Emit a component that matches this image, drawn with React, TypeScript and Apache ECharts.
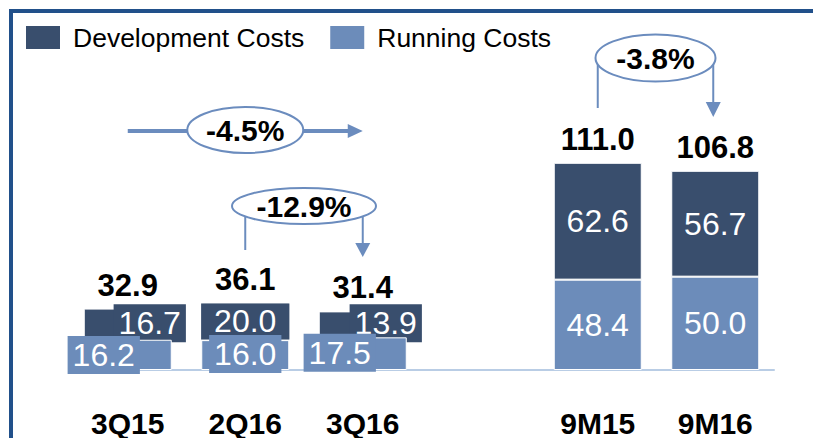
import React, { useEffect, useRef } from "react";
import * as echarts from "echarts";

const categories = ["3Q15", "2Q16", "3Q16", "", "9M15", "9M16"];
const developmentCosts: (number | null)[] = [16.7, 20.0, 13.9, null, 62.6, 56.7];
const runningCosts: (number | null)[] = [16.2, 16.0, 17.5, null, 48.4, 50.0];
const totals: (number | null)[] = [32.9, 36.1, 31.4, null, 111.0, 106.8];
const changeLabels = ["-4.5%", "-12.9%", "-3.8%"];

// label placement styles (not data)
const runLabelOffsets: ([number, number] | null)[] = [[-24, 0], [0, -1], [-23, -1], null, null, null];
const devLabelOffsets: ([number, number] | null)[] = [[22, -1], [0, 0], [23, -1], null, null, null];
const devLabelPadding: ([number, number] | null)[] = [[3, 5], [2, 13], [3, 5], null, null, null];

const DARK = "#394e6d";
const LIGHT = "#6c8cba";
const STROKE = "#6b8cbe";
const FRAME = "#21508a";
const FONT = '"Liberation Sans", Arial, sans-serif';

export default function App() {
  const ref = useRef<HTMLDivElement>(null);

  useEffect(() => {
    if (!ref.current) return;
    const chart = echarts.init(ref.current, undefined, { renderer: "svg" });

    const fmt = (v: number) => v.toFixed(1);

    const runData = runningCosts.map((v, i) => {
      if (v == null) return "-";
      const off = runLabelOffsets[i];
      return {
        value: v,
        label: off
          ? { offset: off, backgroundColor: LIGHT, padding: [3, 5], lineHeight: 32 }
          : {},
      };
    });

    const devData = developmentCosts.map((v, i) => {
      if (v == null) return "-";
      const off = devLabelOffsets[i];
      return {
        value: v,
        label: off
          ? { offset: off, backgroundColor: DARK, padding: devLabelPadding[i], lineHeight: 32 }
          : {},
      };
    });

    const option: any = {
      animation: false,
      textStyle: { fontFamily: FONT },
      legend: {
        data: ["Development Costs", "Running Costs"],
        left: 24,
        top: 24,
        padding: 0,
        itemWidth: 36,
        itemHeight: 25,
        itemGap: 24,
        icon: "rect",
        selectedMode: false,
        textStyle: {
          fontSize: 26.5,
          color: "#000",
          fontFamily: FONT,
          padding: [0, 0, 0, 7],
        },
      },
      grid: { left: 69, right: 39, top: 146, bottom: 66, containLabel: false },
      xAxis: {
        type: "category",
        data: categories,
        axisLine: { show: true, lineStyle: { color: "#b9cde5", width: 2 } },
        axisTick: { show: false },
        axisLabel: {
          margin: 38,
          fontSize: 30,
          fontWeight: "bold",
          color: "#000",
          fontFamily: FONT,
          interval: 0,
        },
      },
      yAxis: { type: "value", min: 0, max: 120, show: false, splitLine: { show: false } },
      series: [
        {
          name: "Running Costs",
          type: "bar",
          stack: "costs",
          barWidth: 88,
          z: 3,
          itemStyle: { color: LIGHT, borderColor: "#fff", borderWidth: 1 },
          label: {
            show: true,
            position: "inside",
            color: "#fff",
            fontSize: 32,
            fontFamily: FONT,
            formatter: (p: any) => fmt(p.value),
          },
          data: runData,
        },
        {
          name: "Development Costs",
          type: "bar",
          stack: "costs",
          barWidth: 88,
          z: 2,
          itemStyle: { color: DARK, borderColor: "#fff", borderWidth: 1 },
          label: {
            show: true,
            position: "inside",
            color: "#fff",
            fontSize: 32,
            fontFamily: FONT,
            formatter: (p: any) => fmt(p.value),
          },
          data: devData,
        },
        {
          name: "Total",
          type: "scatter",
          symbolSize: 0.1,
          itemStyle: { color: "#fff", opacity: 1 },
          emphasis: { disabled: true },
          silent: true,
          z: 4,
          label: {
            show: true,
            position: "top",
            distance: 8,
            color: "#000",
            opacity: 1,
            textBorderWidth: 0,
            fontSize: 31,
            fontWeight: "bold",
            fontFamily: FONT,
            formatter: (p: any) => fmt(Array.isArray(p.value) ? p.value[1] : p.value),
          },
          data: totals.map((v) => (v == null ? "-" : v)),
        },
      ],
    };

    chart.setOption(option);

    const X = (i: number) => chart.convertToPixel({ xAxisIndex: 0 }, i) as number;

    const ellipse = (cx: number, cy: number, rx: number, ry: number, text: string) => [
      {
        type: "ellipse",
        z: 20,
        shape: { cx, cy, rx, ry },
        style: { fill: "#fff", stroke: STROKE, lineWidth: 2 },
      },
      {
        type: "text",
        z: 21,
        x: cx,
        y: cy,
        style: {
          text,
          fill: "#000",
          font: `bold 30px ${FONT}`,
          align: "center",
          verticalAlign: "middle",
        },
      },
    ];

    const vline = (x: number, y1: number, y2: number) => ({
      type: "line",
      z: 15,
      shape: { x1: x, y1, x2: x, y2 },
      style: { stroke: STROKE, lineWidth: 2 },
    });
    const downArrow = (x: number, yTop: number, yTip: number) => ({
      type: "polygon",
      z: 15,
      shape: { points: [[x - 7.5, yTop], [x + 7.5, yTop], [x, yTip]] },
      style: { fill: STROKE },
    });

    const x0 = X(0), x1 = X(1), x2 = X(2), x4 = X(4), x5 = X(5);

    const graphics: any[] = [
      { type: "line", z: 30, shape: { x1: 9, y1: 11, x2: 813, y2: 11 }, style: { stroke: FRAME, lineWidth: 4 } },
      { type: "line", z: 30, shape: { x1: 11, y1: 9, x2: 11, y2: 438 }, style: { stroke: FRAME, lineWidth: 4 } },
      { type: "line", z: 15, shape: { x1: x0, y1: 131, x2: x2 - 12, y2: 131 }, style: { stroke: STROKE, lineWidth: 4 } },
      {
        type: "polygon",
        z: 15,
        shape: { points: [[x2 - 15, 124], [x2, 131], [x2 - 15, 138]] },
        style: { fill: STROKE },
      },
      ...ellipse(x1, 130, 58, 23, changeLabels[0]),
      vline(x1, 206, 250),
      vline(x2, 206, 244),
      downArrow(x2, 243, 257),
      ...ellipse((x1 + x2) / 2, 206, 72, 18, changeLabels[1]),
      vline(x4, 58, 108),
      vline(x5 - 2, 58, 103),
      downArrow(x5 - 2, 102, 117),
      ...ellipse((x4 + x5) / 2 - 1, 58, 60, 23.5, changeLabels[2]),
    ];

    chart.setOption({ graphic: graphics });

    return () => chart.dispose();
  }, []);

  return (
    <div
      ref={ref}
      style={{ position: "fixed", left: 0, top: 0, width: 813, height: 438, background: "#fff" }}
    />
  );
}
